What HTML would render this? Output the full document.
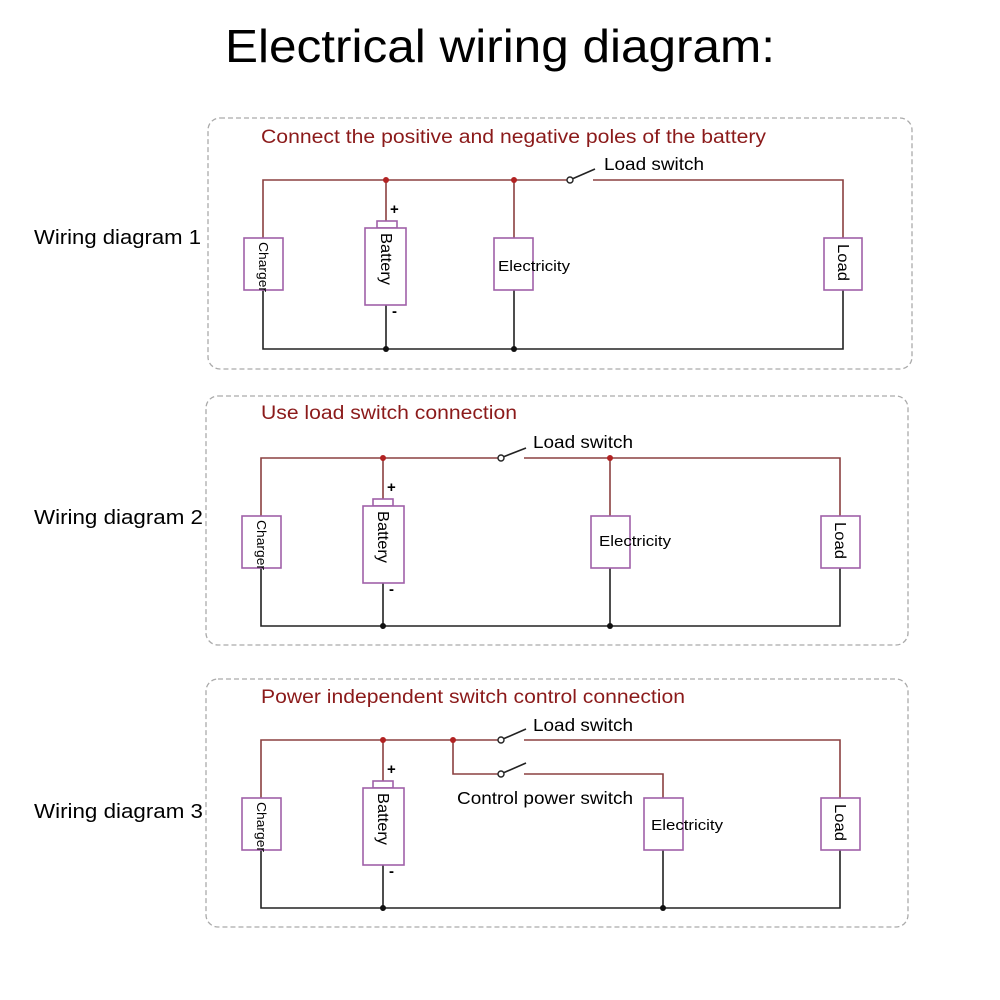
<!DOCTYPE html>
<html><head><meta charset="utf-8"><style>
html,body{margin:0;padding:0;background:#fff}
svg{display:block}
text{font-family:"Liberation Sans",sans-serif}
</style></head><body>
<svg width="1000" height="1000" viewBox="0 0 1000 1000" xmlns="http://www.w3.org/2000/svg">
<rect width="1000" height="1000" fill="#fff"/>
<text x="225" y="62" font-size="46" textLength="550" lengthAdjust="spacingAndGlyphs">Electrical wiring diagram:</text>

<g fill="none" stroke="#aaa" stroke-width="1.3" stroke-dasharray="5,3">
<rect x="208" y="118" width="704" height="251" rx="12"/>
<rect x="206" y="396" width="702" height="249" rx="12"/>
<rect x="206" y="679" width="702" height="248" rx="12"/>
</g>

<g font-size="20" fill="#000">
<text x="34" y="244" textLength="167" lengthAdjust="spacingAndGlyphs">Wiring diagram 1</text>
<text x="34" y="524" textLength="169" lengthAdjust="spacingAndGlyphs">Wiring diagram 2</text>
<text x="34" y="818" textLength="169" lengthAdjust="spacingAndGlyphs">Wiring diagram 3</text>
</g>
<g font-size="19" fill="#8b1a1a">
<text x="261" y="143" textLength="505" lengthAdjust="spacingAndGlyphs">Connect the positive and negative poles of the battery</text>
<text x="261" y="419" textLength="256" lengthAdjust="spacingAndGlyphs">Use load switch connection</text>
<text x="261" y="703" textLength="424" lengthAdjust="spacingAndGlyphs">Power independent switch control connection</text>
</g>
<g font-size="17.5" fill="#000">
<text x="604" y="170" textLength="100" lengthAdjust="spacingAndGlyphs">Load switch</text>
<text x="533" y="448" textLength="100" lengthAdjust="spacingAndGlyphs">Load switch</text>
<text x="533" y="731" textLength="100" lengthAdjust="spacingAndGlyphs">Load switch</text>
<text x="457" y="804" textLength="176" lengthAdjust="spacingAndGlyphs">Control power switch</text>
</g>

<!-- Panel 1 -->
<g stroke="#8b4040" stroke-width="1.6" fill="none">
<polyline points="263,238 263,180 567,180"/>
<line x1="386" y1="180" x2="386" y2="221"/>
<line x1="514" y1="180" x2="514" y2="238"/>
<polyline points="593,180 843,180 843,238"/>
</g>
<g stroke="#222" stroke-width="1.6" fill="none">
<polyline points="263,290 263,349 843,349 843,290"/>
<line x1="386" y1="305" x2="386" y2="349"/>
<line x1="514" y1="290" x2="514" y2="349"/>
<line x1="572" y1="179" x2="595" y2="169"/>
</g>
<circle cx="570" cy="180" r="3" fill="#fff" stroke="#222" stroke-width="1.4"/>

<!-- Panel 2 -->
<g stroke="#8b4040" stroke-width="1.6" fill="none">
<polyline points="261,516 261,458 498,458"/>
<line x1="383" y1="458" x2="383" y2="499"/>
<line x1="610" y1="458" x2="610" y2="516"/>
<polyline points="524,458 840,458 840,516"/>
</g>
<g stroke="#222" stroke-width="1.6" fill="none">
<polyline points="261,568 261,626 840,626 840,568"/>
<line x1="383" y1="583" x2="383" y2="626"/>
<line x1="610" y1="568" x2="610" y2="626"/>
<line x1="503" y1="457" x2="526" y2="448"/>
</g>
<circle cx="501" cy="458" r="3" fill="#fff" stroke="#222" stroke-width="1.4"/>

<!-- Panel 3 -->
<g stroke="#8b4040" stroke-width="1.6" fill="none">
<polyline points="261,798 261,740 498,740"/>
<line x1="383" y1="740" x2="383" y2="781"/>
<polyline points="453,740 453,774 498,774"/>
<polyline points="524,740 840,740 840,798"/>
<polyline points="524,774 663,774 663,798"/>
</g>
<g stroke="#222" stroke-width="1.6" fill="none">
<polyline points="261,850 261,908 840,908 840,850"/>
<line x1="383" y1="865" x2="383" y2="908"/>
<line x1="663" y1="850" x2="663" y2="908"/>
<line x1="503" y1="739" x2="526" y2="729"/>
<line x1="503" y1="773" x2="526" y2="763"/>
</g>
<circle cx="501" cy="740" r="3" fill="#fff" stroke="#222" stroke-width="1.4"/>
<circle cx="501" cy="774" r="3" fill="#fff" stroke="#222" stroke-width="1.4"/>

<g fill="#b22222">
<circle cx="386" cy="180" r="3"/><circle cx="514" cy="180" r="3"/>
<circle cx="383" cy="458" r="3"/><circle cx="610" cy="458" r="3"/>
<circle cx="383" cy="740" r="3"/><circle cx="453" cy="740" r="3"/>
</g>
<g fill="#111">
<circle cx="386" cy="349" r="3"/><circle cx="514" cy="349" r="3"/>
<circle cx="383" cy="626" r="3"/><circle cx="610" cy="626" r="3"/>
<circle cx="383" cy="908" r="3"/><circle cx="663" cy="908" r="3"/>
</g>

<g fill="#fff" stroke="#a060a8" stroke-width="1.6">
<rect x="244" y="238" width="39" height="52"/>
<rect x="377" y="221" width="20" height="7"/>
<rect x="365" y="228" width="41" height="77"/>
<rect x="494" y="238" width="39" height="52"/>
<rect x="824" y="238" width="38" height="52"/>

<rect x="242" y="516" width="39" height="52"/>
<rect x="373" y="499" width="20" height="7"/>
<rect x="363" y="506" width="41" height="77"/>
<rect x="591" y="516" width="39" height="52"/>
<rect x="821" y="516" width="39" height="52"/>

<rect x="242" y="798" width="39" height="52"/>
<rect x="373" y="781" width="20" height="7"/>
<rect x="363" y="788" width="41" height="77"/>
<rect x="644" y="798" width="39" height="52"/>
<rect x="821" y="798" width="39" height="52"/>
</g>

<g fill="#000">
<text font-size="13" transform="translate(259,242) rotate(90)" textLength="50" lengthAdjust="spacingAndGlyphs">Charger</text>
<text font-size="16" transform="translate(381,233) rotate(90)" textLength="52" lengthAdjust="spacingAndGlyphs">Battery</text>
<text font-size="15" x="498" y="271" textLength="72" lengthAdjust="spacingAndGlyphs">Electricity</text>
<text font-size="16" transform="translate(838,244) rotate(90)" textLength="37" lengthAdjust="spacingAndGlyphs">Load</text>
<text font-size="15" font-weight="bold" x="390" y="214">+</text>
<text font-size="15" font-weight="bold" x="392" y="316">-</text>

<text font-size="13" transform="translate(257,520) rotate(90)" textLength="50" lengthAdjust="spacingAndGlyphs">Charger</text>
<text font-size="16" transform="translate(378,511) rotate(90)" textLength="52" lengthAdjust="spacingAndGlyphs">Battery</text>
<text font-size="15" x="599" y="546" textLength="72" lengthAdjust="spacingAndGlyphs">Electricity</text>
<text font-size="16" transform="translate(835,522) rotate(90)" textLength="37" lengthAdjust="spacingAndGlyphs">Load</text>
<text font-size="15" font-weight="bold" x="387" y="492">+</text>
<text font-size="15" font-weight="bold" x="389" y="594">-</text>

<text font-size="13" transform="translate(257,802) rotate(90)" textLength="50" lengthAdjust="spacingAndGlyphs">Charger</text>
<text font-size="16" transform="translate(378,793) rotate(90)" textLength="52" lengthAdjust="spacingAndGlyphs">Battery</text>
<text font-size="15" x="651" y="830" textLength="72" lengthAdjust="spacingAndGlyphs">Electricity</text>
<text font-size="16" transform="translate(835,804) rotate(90)" textLength="37" lengthAdjust="spacingAndGlyphs">Load</text>
<text font-size="15" font-weight="bold" x="387" y="774">+</text>
<text font-size="15" font-weight="bold" x="389" y="876">-</text>
</g>
</svg>
</body></html>
